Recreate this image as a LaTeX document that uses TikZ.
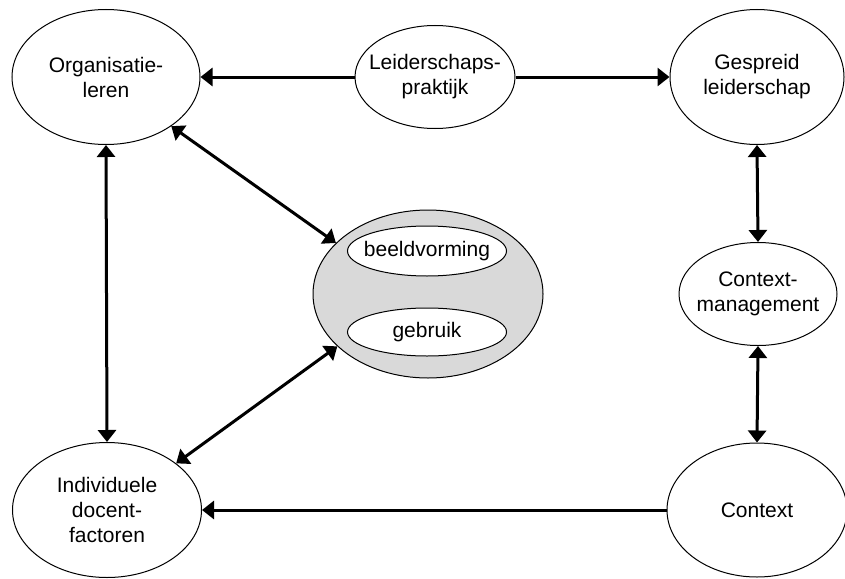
\documentclass[tikz,border=0pt]{standalone}
\usepackage{fontspec}
\setmainfont{Liberation Sans}
\usetikzlibrary{shapes.geometric,arrows.meta}
\definecolor{grayfill}{RGB}{217,217,217}
\begin{document}
\begin{tikzpicture}[x=1pt,y=-1pt,
  ell/.style={draw,ellipse,inner sep=-40pt,line width=1pt,align=center,
    font=\fontsize{21}{25}\selectfont},
  arr/.style={line width=3pt,-{Triangle[length=12pt,width=18pt]}},
  darr/.style={line width=3pt,{Triangle[length=12pt,width=18pt]}-{Triangle[length=12pt,width=18pt]}}]
\useasboundingbox (0,0) rectangle (845,578);
\node[ell,minimum width=188pt,minimum height=135pt] (org) at (106,77) {Organisatie-\\leren};
\node[ell,minimum width=160pt,minimum height=103pt] (lei) at (435,77) {Leiderschaps-\\praktijk};
\node[ell,minimum width=174pt,minimum height=135pt] (ges) at (757,77) {Gespreid\\leiderschap};
\node[ell,minimum width=158pt,minimum height=103pt] (cm) at (758,294) {Context-\\management};
\node[ell,minimum width=180pt,minimum height=134pt] (ctx) at (757,510) {Context};
\node[ell,minimum width=189pt,minimum height=135pt] (ind) at (107,510) {Individuele\\docent-\\factoren};
\node[ell,fill=grayfill,minimum width=230pt,minimum height=168pt] (gray) at (428,294) {};
\node[ell,fill=white,minimum width=159pt,minimum height=50pt] (beeld) at (427,251) {beeldvorming};
\node[ell,fill=white,minimum width=159pt,minimum height=48pt] (gebr) at (427,332) {gebruik};
\draw[arr] (lei.west) -- (org.east);
\draw[arr] (lei.east) -- (ges.west);
\draw[darr] (ges.south) -- (cm.north);
\draw[darr] (cm.south) -- (ctx.north);
\draw[arr] (ctx.west) -- (ind.east);
\draw[darr] (org.south) -- (ind.north);
\draw[darr] (org.-37) -- (gray.151);
\draw[darr] (gray.210) -- (ind.34);
\end{tikzpicture}
\end{document}
